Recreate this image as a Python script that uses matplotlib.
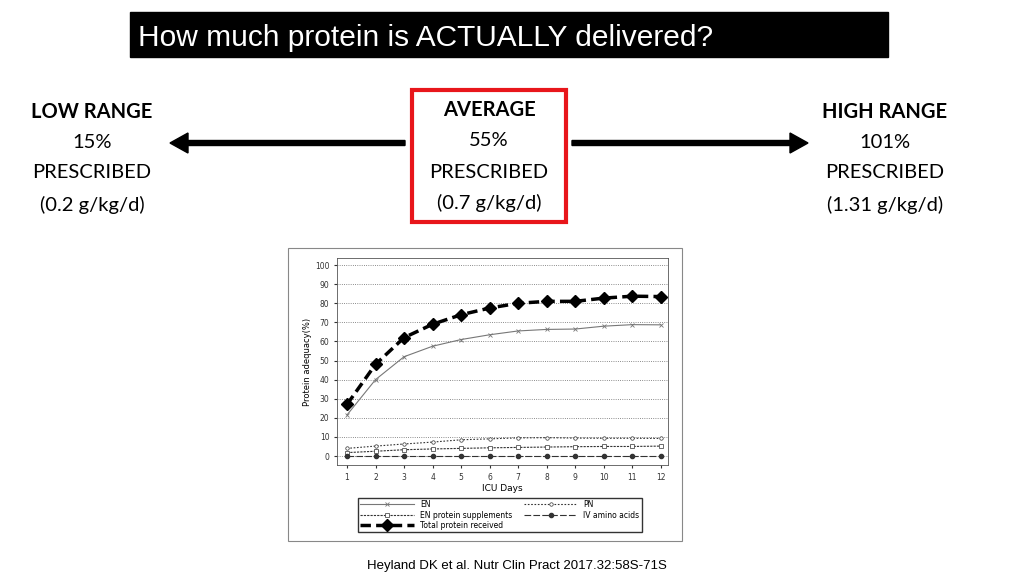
import matplotlib
matplotlib.use("Agg")
import matplotlib.pyplot as plt
from matplotlib.patches import Rectangle, FancyArrow

days = list(range(1, 13))
en = [21.5, 40, 52, 57.5, 61, 63.5, 65.5, 66.3, 66.5, 68, 68.8, 68.7]
pn = [4, 5.2, 6.3, 7.3, 8.5, 9, 9.5, 9.6, 9.4, 9.3, 9.3, 9.2]
en_sup = [1.8, 2.5, 3.3, 3.7, 4, 4.3, 4.5, 4.7, 4.9, 5, 5, 5.2]
iv = [0, 0, 0, 0, 0, 0, 0, 0, 0, 0, 0, 0]
total = [27, 48, 62, 69, 74, 77.5, 80, 81, 81, 82.7, 83.7, 83.5]

fig = plt.figure(figsize=(10.24, 5.76), dpi=100)
fig.patch.set_facecolor("white")
W, H = 1024, 576
def fx(x): return x / W
def fy(y): return 1 - y / H

# Title
fig.patches.append(Rectangle((fx(130), fy(57)), fx(758), 45 / H, transform=fig.transFigure, color="black"))
fig.text(fx(138), fy(38), "How much protein is ACTUALLY delivered?", color="white", fontsize=21.5,
         family="Liberation Sans", ha="left", va="center")

font = "Lato"
def block(x, lines, fs=14.5):
    ys = [112, 143, 173, 205]
    for i, (t, y) in enumerate(zip(lines, ys)):
        fig.text(fx(x), fy(y), t, ha="center", va="center", fontsize=fs, family=font,
                 weight="bold" if i == 0 else "normal")
block(92, ["LOW RANGE", "15%", "PRESCRIBED", "(0.2 g/kg/d)"])
block(885, ["HIGH RANGE", "101%", "PRESCRIBED", "(1.31 g/kg/d)"])
for t, y, b in [("AVERAGE", 110, True), ("55%", 141, False), ("PRESCRIBED", 172, False), ("(0.7 g/kg/d)", 203, False)]:
    fig.text(fx(489), fy(y), t, ha="center", va="center", fontsize=14.5, family=font, weight="bold" if b else "normal")
fig.patches.append(Rectangle((fx(412), fy(222)), 154 / W, 132 / H, transform=fig.transFigure,
                             fill=False, edgecolor="#e8161b", linewidth=3))
fig.patches.append(FancyArrow(fx(405), fy(143), -(235) / W, 0, width=5 / H, head_width=20 / H,
                              head_length=18 / W, transform=fig.transFigure, color="black", length_includes_head=True))
fig.patches.append(FancyArrow(fx(572), fy(143), 236 / W, 0, width=5 / H, head_width=20 / H,
                              head_length=18 / W, transform=fig.transFigure, color="black", length_includes_head=True))

# Chart frame
fig.patches.append(Rectangle((fx(288), fy(541)), 394 / W, 293 / H, transform=fig.transFigure,
                             fill=False, edgecolor="#888888", linewidth=0.8))

ax = fig.add_axes([fx(337), fy(465), 331 / W, 207 / H])
ax.set_xlim(0.65, 12.25)
ax.set_ylim(-4.7, 103.7)
ax.set_yticks(range(0, 101, 10))
ax.set_xticks(days)
ax.tick_params(labelsize=5.5, length=2, colors="#333333")
ax.yaxis.grid(True, linestyle=":", color="#666666", linewidth=0.6)
for s in ax.spines.values():
    s.set_linewidth(0.6); s.set_color("#555555")
ax.set_xlabel("ICU Days", fontsize=6.5, labelpad=2)
ax.set_ylabel("Protein adequacy(%)", fontsize=6, labelpad=2)

h1, = ax.plot(days, en, color="#777777", lw=0.8, marker="x", ms=3, mew=0.6, label="EN")
h2, = ax.plot(days, en_sup, color="#333333", lw=0.8, ls=(0, (2, 1)), marker="s", ms=2.5, mfc="white", mew=0.5, label="EN protein supplements")
h3, = ax.plot(days, total, color="black", lw=2.5, ls=(0, (3, 1.5)), marker="D", ms=6, label="Total protein received")
h4, = ax.plot(days, pn, color="#333333", lw=0.8, ls=(0, (1.5, 1.5)), marker="o", ms=2.5, mfc="white", mew=0.5, label="PN")
h5, = ax.plot(days, iv, color="#333333", lw=0.8, ls=(0, (6, 2)), marker="o", ms=3, label="IV amino acids")

fig.legend(handles=[h1, h2, h3, h4, h5], loc="center", bbox_to_anchor=(fx(500), fy(515)), ncol=2,
           fontsize=5.5, frameon=True, edgecolor="black", fancybox=False, handlelength=7,
           borderpad=0.3, labelspacing=0.2, columnspacing=1.5)

fig.text(fx(517), fy(566), "Heyland DK et al. Nutr Clin Pract 2017.32:58S-71S", ha="center", va="center",
         fontsize=9.5, family="Liberation Sans")

fig.savefig("out.png", dpi=100)
